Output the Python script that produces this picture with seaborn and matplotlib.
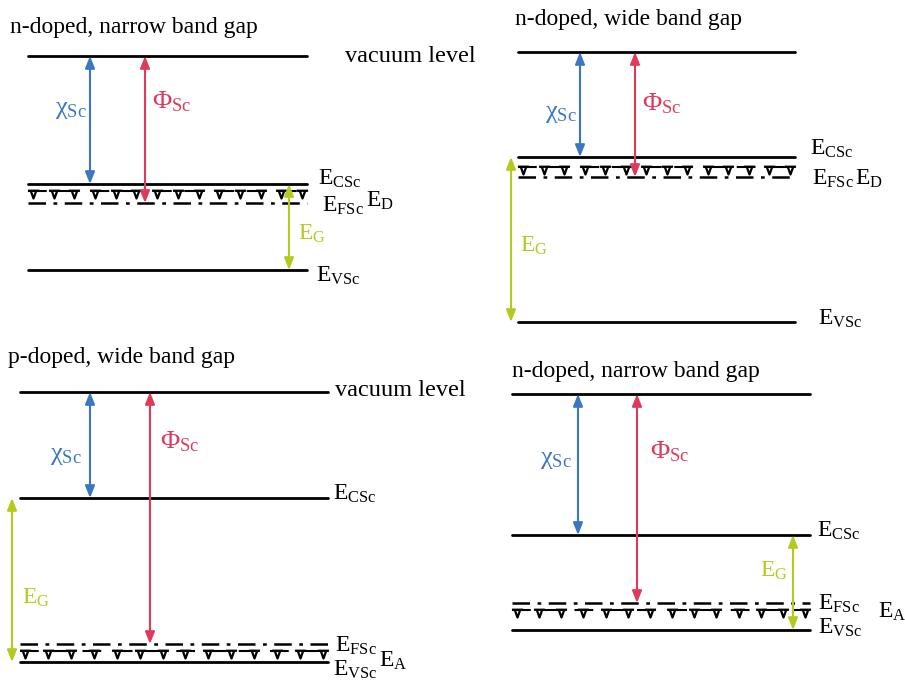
import numpy as np
import pandas as pd
import matplotlib
matplotlib.use("Agg")
import matplotlib.pyplot as plt
from matplotlib.path import Path
import seaborn as sns

sns.set_theme(style="white")
plt.rcParams['font.family'] = ['Liberation Serif', 'DejaVu Serif']
plt.rcParams['mathtext.fontset'] = 'custom'
plt.rcParams['mathtext.rm'] = 'Liberation Serif'
plt.rcParams['mathtext.it'] = 'Liberation Serif:italic'
plt.rcParams['text.color'] = 'black'

# four band diagrams (pixel coordinates, y downwards)
TITLES = ['n-doped, narrow band gap', 'n-doped, wide band gap',
          'p-doped, wide band gap', 'n-doped, narrow band gap']
DOPANT = ['D', 'D', 'A', 'A']
X_LEFT = [28, 518, 20, 512]
X_RIGHT = [307, 795, 328, 810]
Y_VAC = [56, 52, 392, 394]
Y_CB = [184, 157, 498, 535]
Y_DOP = [193, 169, 653, 612]
Y_FERMI = [203, 177, 644, 603]
Y_VB = [270, 322, 662, 630]
CHI_X = [90, 580, 90, 578]
PHI_X = [145, 635, 150, 637]
EG_X = [289, 511, 12, 793]

BLUE = '#3b76c4'
RED = '#e03a5a'
GREEN = '#b4ca1e'

fig = plt.figure(figsize=(9.05, 6.83), dpi=100)
ax = fig.add_axes([0, 0, 1, 1])

# solid levels: vacuum, conduction band, valence band
rows = []
seg = 0
for i in range(4):
    for y in (Y_VAC[i], Y_CB[i], Y_VB[i]):
        rows.append({'x': X_LEFT[i], 'y': y, 'seg': seg})
        rows.append({'x': X_RIGHT[i], 'y': y, 'seg': seg})
        seg += 1
df = pd.DataFrame(rows)
sns.lineplot(data=df, x='x', y='y', units='seg', estimator=None,
             color='black', lw=2, ax=ax, legend=False)

# dopant level symbol: bar with a small v below
sym = Path([(-1, 0.5), (1, 0.5), (-0.5, 0.5), (0, -0.9), (0.5, 0.5)],
           [Path.MOVETO, Path.LINETO, Path.MOVETO, Path.LINETO, Path.LINETO])


def arrow(x, ya, yb, c):
    ax.annotate('', xy=(x, yb), xytext=(x, ya),
                arrowprops=dict(arrowstyle='<|-|>,head_length=0.6,head_width=0.24',
                                color=c, lw=1.5, shrinkA=0, shrinkB=0))


for i in range(4):
    x0, x1 = X_LEFT[i], X_RIGHT[i]
    # Fermi level, dash-dot
    ax.plot([x0, x1], [Y_FERMI[i], Y_FERMI[i]], color='black', lw=1.8,
            linestyle=(0, (7, 3, 1.5, 3)))
    # dopant level
    ax.plot([x0, x1], [Y_DOP[i] - 2, Y_DOP[i] - 2], color='black', lw=1.5,
            linestyle=(0, (9, 6)))
    xs = np.linspace(x0 + 5, x1 - 5, 14)
    ax.plot(xs, np.full_like(xs, Y_DOP[i]), linestyle='none', marker=sym,
            markersize=8, markeredgewidth=1.6, markeredgecolor='black',
            fillstyle='none')

    arrow(CHI_X[i], Y_VAC[i], Y_CB[i], BLUE)
    arrow(PHI_X[i], Y_VAC[i], Y_FERMI[i], RED)
    arrow(EG_X[i], Y_CB[i], Y_VB[i], GREEN)

# titles and labels
ax.text(10, 28, TITLES[0], fontsize=17, va='center')
ax.text(515, 20, TITLES[1], fontsize=17, va='center')
ax.text(8, 358, TITLES[2], fontsize=17, va='center')
ax.text(512, 371, TITLES[3], fontsize=17, va='center')
ax.text(345, 56, 'vacuum level', fontsize=17.5, va='center')
ax.text(335, 390, 'vacuum level', fontsize=17.5, va='center')

chi_lbl = [(55, 114), (545, 118), (50, 460), (540, 464)]
phi_lbl = [(152, 108), (642, 110), (160, 448), (650, 458)]
eg_lbl = [(298, 240), (520, 252), (22, 604), (760, 577)]
for i in range(4):
    ax.text(*chi_lbl[i], 'χ$_{\\mathrm{Sc}}$', color=BLUE, fontsize=19, va='baseline')
    ax.text(*phi_lbl[i], 'Φ$_{\\mathrm{Sc}}$', color=RED, fontsize=19, va='baseline')
    ax.text(*eg_lbl[i], 'E$_{\\mathrm{G}}$', color=GREEN, fontsize=17, va='baseline')

ecs_lbl = [(318, 185), (810, 155), (333, 500), (817, 537)]
efs_lbl = [(322, 212), (812, 185), (335, 652), (818, 610)]
dop_lbl = [(366, 207), (855, 185), (379, 667), (878, 618)]
evs_lbl = [(316, 282), (818, 325), (333, 676), (818, 634)]
for i in range(4):
    ax.text(*ecs_lbl[i], 'E$_{\\mathrm{CSc}}$', fontsize=17, va='baseline')
    ax.text(*efs_lbl[i], 'E$_{\\mathrm{FSc}}$', fontsize=17, va='baseline')
    ax.text(*dop_lbl[i], 'E$_{\\mathrm{%s}}$' % DOPANT[i], fontsize=17, va='baseline')
    ax.text(*evs_lbl[i], 'E$_{\\mathrm{VSc}}$', fontsize=17, va='baseline')

ax.set_xlim(0, 905)
ax.set_ylim(683, 0)
ax.axis('off')
fig.savefig('out.png', dpi=100)
